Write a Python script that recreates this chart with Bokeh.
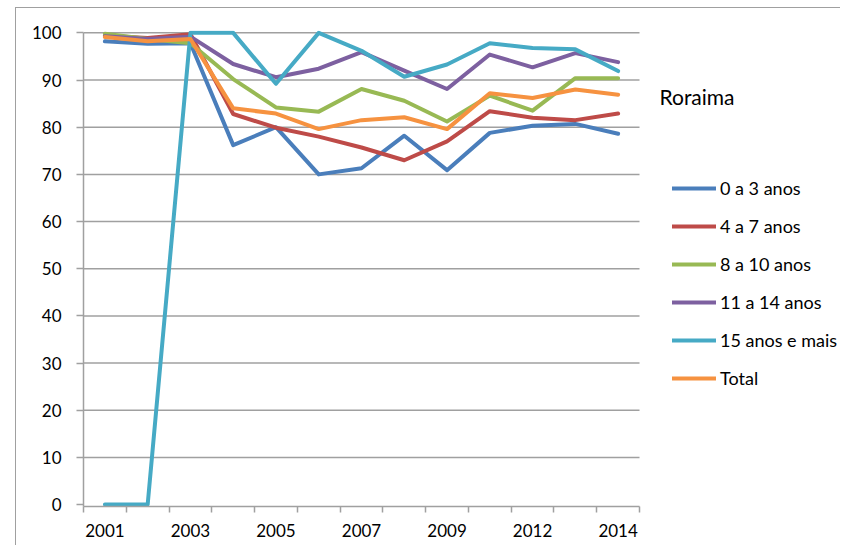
from bokeh.plotting import figure
from bokeh.models import Range1d, FixedTicker, Legend, LegendItem, Label, InlineStyleSheet
from bokeh.embed import file_html
from bokeh.resources import INLINE

years = ["2001", "2002", "2003", "2004", "2005", "2006", "2007", "2008", "2009",
         "2011", "2012", "2013", "2014"]

s_0a3 = [98.2, 97.7, 97.8, 76.2, 80.0, 70.0, 71.3, 78.2, 70.9, 78.8, 80.3, 80.7, 78.6]
s_4a7 = [99.4, 98.9, 99.7, 82.8, 79.9, 78.0, 75.7, 73.0, 77.0, 83.4, 82.0, 81.5, 82.9]
s_8a10 = [99.8, 98.7, 97.8, 90.2, 84.2, 83.3, 88.1, 85.6, 81.2, 86.7, 83.5, 90.4, 90.4]
s_11a14 = [99.3, 98.7, 99.2, 93.4, 90.6, 92.4, 95.9, 92.0, 88.1, 95.4, 92.7, 95.7, 93.8]
s_15mais = [0.0, 0.0, 100.0, 100.0, 89.2, 100.0, 96.2, 90.7, 93.3, 97.8, 96.8, 96.5, 91.9]
s_total = [99.1, 98.2, 98.7, 84.0, 82.9, 79.6, 81.5, 82.1, 79.6, 87.2, 86.2, 88.0, 86.9]

series_names = ["0 a 3 anos", "4 a 7 anos", "8 a 10 anos", "11 a 14 anos",
                "15 anos e mais", "Total"]
series_vals = [s_0a3, s_4a7, s_8a10, s_11a14, s_15mais, s_total]
colors = ["#4A7EBB", "#BE4B48", "#98B954", "#7D60A0", "#46AAC5", "#F69240"]
y_ticks = [0, 10, 20, 30, 40, 50, 60, 70, 80, 90, 100]
title_text = "Roraima"

FONT = "Lato"
GRAY = "#a0a0a0"

W, H = 840, 545
LEFT, TOP, BOTTOM = 83, 30, 39
n = len(years)
cat_px = 556 / n                      # width of one category in pixels
x_end = (W - LEFT) / cat_px
y_start, y_end = -0.4, 100.5
xs = [i + 0.5 for i in range(n)]

p = figure(width=W, height=H, output_backend="svg", toolbar_location=None,
           x_range=Range1d(0, x_end), y_range=Range1d(y_start, y_end),
           min_border_left=LEFT, min_border_right=0, min_border_top=TOP,
           min_border_bottom=BOTTOM)
p.outline_line_color = None
p.background_fill_color = "white"
p.border_fill_color = "white"
p.xgrid.visible = False
p.ygrid.visible = False

# outer chart-area border (only its left and top edges are inside the view)
p.stylesheets = [InlineStyleSheet(css="""
:host { position: relative; }
:host::after {
  content: ""; position: absolute; left: 15px; top: 7px; right: 0px; bottom: 0px;
  border-left: 1.5px solid #a0a0a0; border-top: 1.5px solid #a0a0a0;
  pointer-events: none; box-sizing: border-box;
}
""")]

# horizontal gridlines, limited to the category span
g_ticks = [t for t in y_ticks if t > 0]
p.segment(x0=[0] * len(g_ticks), x1=[n] * len(g_ticks), y0=g_ticks, y1=g_ticks,
          line_color=GRAY, line_width=1.5)

# y axis
ya = p.yaxis[0]
ya.ticker = FixedTicker(ticks=y_ticks)
ya.bounds = (y_start, 100)
ya.axis_line_color = GRAY
ya.axis_line_width = 1.5
ya.major_tick_line_color = GRAY
ya.major_tick_line_width = 1.5
ya.major_tick_out = 7
ya.major_tick_in = 0
ya.minor_tick_line_color = None
ya.major_label_standoff = 15
ya.major_label_text_font = FONT
ya.major_label_text_font_size = "17px"
ya.major_label_text_color = "black"

# x axis: labels at every other category centre, ticks at category boundaries
xa = p.xaxis[0]
label_pos = [xs[i] for i in range(0, n, 2)]
xa.ticker = FixedTicker(ticks=label_pos, minor_ticks=list(range(n + 1)))
xa.major_label_overrides = {xs[i]: years[i] for i in range(0, n, 2)}
xa.bounds = (0, n)
xa.axis_line_color = GRAY
xa.axis_line_width = 1.5
xa.major_tick_line_color = None
xa.major_tick_out = 0
xa.major_tick_in = 0
xa.minor_tick_line_color = GRAY
xa.minor_tick_line_width = 1.5
xa.minor_tick_out = 6
xa.minor_tick_in = 0
xa.major_label_standoff = 11
xa.major_label_text_font = FONT
xa.major_label_text_font_size = "17px"
xa.major_label_text_color = "black"

items = []
for name, vals, c in zip(series_names, series_vals, colors):
    r = p.line(xs, vals, line_color=c, line_width=4, line_cap="round", line_join="round")
    items.append(LegendItem(label=name, renderers=[r]))

legend = Legend(items=items, location=(589, 117),
                border_line_color=None, background_fill_alpha=0,
                padding=0, margin=0, spacing=16, glyph_width=44, glyph_height=22,
                label_height=22, label_standoff=4,
                label_text_font=FONT, label_text_font_size="18px",
                label_text_color="black")
p.add_layout(legend, "center")

p.add_layout(Label(x=576, y=410, x_units="screen", y_units="screen", text=title_text,
                   text_font=FONT, text_font_size="21px", text_color="black",
                   text_baseline="middle", text_align="left"))

open("out.html", "w").write(file_html(p, INLINE))
